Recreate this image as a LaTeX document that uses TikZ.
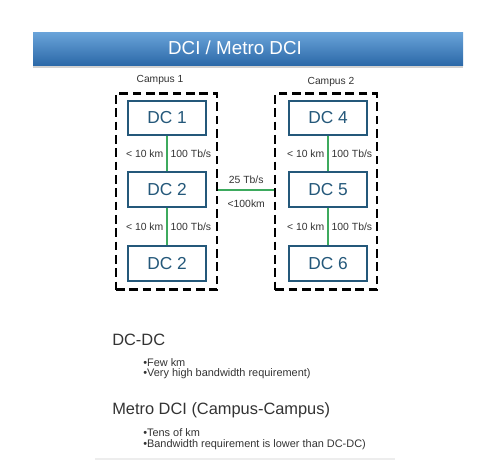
\documentclass[tikz,border=0pt]{standalone}
\usepackage{fontspec}
\setmainfont{Liberation Sans}
\usetikzlibrary{positioning}
\definecolor{bannertop}{HTML}{6AA4DA}
\definecolor{bannermid}{HTML}{3F82C4}
\definecolor{bannerbot}{HTML}{2C69A8}
\definecolor{dcblue}{HTML}{24587A}
\definecolor{linkgreen}{HTML}{3DAA5E}
\definecolor{txtgray}{HTML}{333333}
\tikzset{
  dcbox/.style={draw=dcblue, line width=1.5pt, fill=white, text=dcblue,
    minimum width=58pt, minimum height=26pt, inner sep=0pt, font=\fontsize{13}{15}\selectfont},
  campusbox/.style={draw=black, line width=1.7pt, dash pattern=on 6.5pt off 3.5pt,
    minimum width=76pt, minimum height=147pt, inner sep=0pt},
  link/.style={draw=linkgreen, line width=1.5pt},
  lbl/.style={text=txtgray, font=\fontsize{7.8}{9}\selectfont, inner sep=2pt},
  head/.style={text=txtgray, anchor=west, inner sep=0pt, font=\fontsize{12.3}{14}\selectfont},
  bullet/.style={text=txtgray, anchor=west, inner sep=0pt, font=\fontsize{8.2}{10}\selectfont}
}

\begin{document}
\begin{tikzpicture}[x=0.75pt, y=-0.75pt]
  \def\xa{167}
  \def\xb{328}
  \def\yone{118}
  \def\ytwo{189.5}
  \def\ythree{263.5}
  \useasboundingbox (0,0) rectangle (500,462);

  % title banner
  \fill[black!18] (33,65) rectangle (463,68);
  \shade[top color=bannertop, middle color=bannermid, bottom color=bannerbot] (33,32) rectangle (463,65);
  \node[text=white, font=\fontsize{14.1}{16}\selectfont] (title) at (235,48) {DCI / Metro DCI};

  % campus frames
  \node[campusbox] (campusA) at (166.5,191.5) {};
  \node[campusbox] (campusB) at (326,191.5) {};
  \node[text=txtgray, font=\fontsize{7.7}{9}\selectfont] (labelA) at (160,80) {Campus 1};
  \node[text=txtgray, font=\fontsize{7.7}{9}\selectfont] (labelB) at (331,82) {Campus 2};

  % data centres
  \node[dcbox] (dc1) at (\xa,\yone) {DC 1};
  \node[dcbox] (dc2) at (\xa,\ytwo) {DC 2};
  \node[dcbox] (dc3) at (\xa,\ythree) {DC 2};
  \node[dcbox] (dc4) at (\xb,\yone) {DC 4};
  \node[dcbox] (dc5) at (\xb,\ytwo) {DC 5};
  \node[dcbox] (dc6) at (\xb,\ythree) {DC 6};

  % links
  \draw[link] (dc1) -- node[lbl, left] {< 10 km} node[lbl, right] {100 Tb/s} (dc2);
  \draw[link] (dc2) -- node[lbl, left] {< 10 km} node[lbl, right] {100 Tb/s} (dc3);
  \draw[link] (dc4) -- node[lbl, left] {< 10 km} node[lbl, right] {100 Tb/s} (dc5);
  \draw[link] (dc5) -- node[lbl, left] {< 10 km} node[lbl, right] {100 Tb/s} (dc6);
  \draw[link] (dc2 -| campusA.east) -- node[lbl, above=2pt] {25 Tb/s} node[lbl, below=5pt] {<100km} (dc5 -| campusB.west);

  % notes
  \node[head] (h1) at (112,340) {DC-DC};
  \node[bullet] (b1) at (143,363) {•Few km};
  \node[bullet] (b2) at (143,374) {•Very high bandwidth requirement)};
  \node[head] (h2) at (112,410) {Metro DCI (Campus-Campus)};
  \node[bullet] (b3) at (143,433) {•Tens of km};
  \node[bullet] (b4) at (143,445) {•Bandwidth requirement  is lower than DC-DC)};
  \draw[black!7, line width=0.8pt] (95,459) -- (395,459);
\end{tikzpicture}
\end{document}
